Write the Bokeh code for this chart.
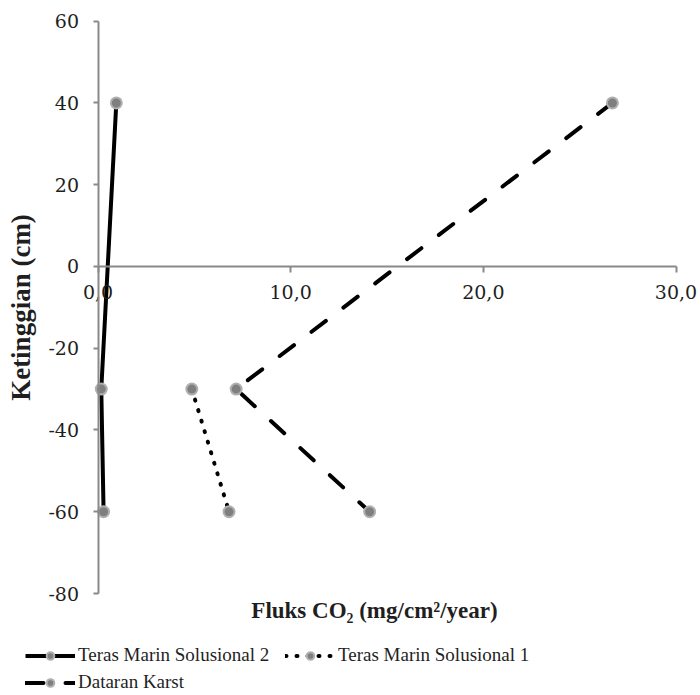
from bokeh.plotting import figure
from bokeh.models import FixedTicker, Legend, LegendItem, Label, Range1d
from bokeh.embed import file_html
from bokeh.resources import INLINE

# ---- data ----
x_ticks = [0, 10, 20, 30]
x_tick_labels = ["0,0", "10,0", "20,0", "30,0"]
y_ticks = [-80, -60, -40, -20, 0, 20, 40, 60]
y_tick_labels = ["-80", "-60", "-40", "-20", "0", "20", "40", "60"]

depth = [40, -30, -60]
teras2_flux = [0.95, 0.17, 0.29]
teras1_depth = [-30, -60]
teras1_flux = [4.87, 6.80]
karst_flux = [26.7, 7.17, 14.1]

series_names = ["Teras Marin Solusional 2", "Teras Marin Solusional 1", "Dataran Karst"]
x_title = "Fluks CO\u2082 (mg/cm\u00b2/year)"
y_title = "Ketinggian (cm)"

# ---- layout (canvas pixels) ----
W, H = 700, 695
AX_L, AX_R, AX_T, AX_B = 97.5, 675.5, 20.7, 593   # where the axis box sits on the canvas

x0, x1 = x_ticks[0], x_ticks[-1]
y0, y1 = y_ticks[0], y_ticks[-1]
sx = (AX_R - AX_L) / (x1 - x0)
sy = (AX_B - AX_T) / (y1 - y0)
x_range = Range1d(x0 - AX_L / sx, x1 + (W - AX_R) / sx)
y_range = Range1d(y0 - (H - AX_B) / sy, y1 + AX_T / sy)

AXIS_COL = "#898989"
TXT_COL = "#1f1f1f"
TICK_FONT = "DejaVu Serif"
TEXT_FONT = "Liberation Serif"

p = figure(width=W, height=H, x_range=x_range, y_range=y_range,
           output_backend="svg", toolbar_location=None, min_border=0)
p.grid.visible = False
p.outline_line_color = None
p.background_fill_color = "white"
p.border_fill_color = "white"

# x axis crossing at y = 0
xa = p.xaxis[0]
xa.fixed_location = 0
xa.bounds = (x0, x1)
xa.ticker = FixedTicker(ticks=x_ticks)
xa.major_label_overrides = {t: l for t, l in zip(x_ticks, x_tick_labels)}
xa.minor_tick_line_color = None
xa.major_tick_in = 0
xa.major_tick_out = 6
xa.axis_line_color = AXIS_COL
xa.axis_line_width = 2
xa.major_tick_line_color = AXIS_COL
xa.major_tick_line_width = 2
xa.major_label_standoff = 13
xa.major_label_text_font = TICK_FONT
xa.major_label_text_font_size = "19px"
xa.major_label_text_color = TXT_COL

# y axis crossing at x = 0
ya = p.yaxis[0]
ya.fixed_location = 0
ya.bounds = (y0, y1)
ya.ticker = FixedTicker(ticks=y_ticks)
ya.major_label_overrides = {t: l for t, l in zip(y_ticks, y_tick_labels)}
ya.minor_tick_line_color = None
ya.major_tick_in = 0
ya.major_tick_out = 5
ya.axis_line_color = AXIS_COL
ya.axis_line_width = 2
ya.major_tick_line_color = AXIS_COL
ya.major_tick_line_width = 2
ya.major_label_standoff = 14
ya.major_label_text_font = TICK_FONT
ya.major_label_text_font_size = "19px"
ya.major_label_text_color = TXT_COL
ya.axis_label = y_title
ya.axis_label_text_font = TEXT_FONT
ya.axis_label_text_font_style = "bold"
ya.axis_label_text_font_size = "27px"
ya.axis_label_text_color = TXT_COL
ya.axis_label_standoff = 10

MARK = dict(size=11, fill_color="#7f7f7f", line_color="#b0b0b0", line_width=2)

r2 = p.line(teras2_flux, depth, line_color="black", line_width=4)
s2 = p.scatter(teras2_flux, depth, **MARK)
r1 = p.line(teras1_flux, teras1_depth, line_color="black", line_width=4,
            line_dash="1 10", line_cap="round")
s1 = p.scatter(teras1_flux, teras1_depth, **MARK)
rk = p.line(karst_flux, depth, line_color="black", line_width=4,
            line_dash="18 22", line_cap="round")
sk = p.scatter(karst_flux, depth, **MARK)

p.add_layout(Label(x=374, y=H - 610, x_units="screen", y_units="screen", text=x_title,
                   text_align="center", text_baseline="middle", text_font=TEXT_FONT,
                   text_font_style="bold", text_font_size="23px", text_color=TXT_COL))

legend = Legend(items=[LegendItem(label=series_names[0], renderers=[r2, s2]),
                       LegendItem(label=series_names[1], renderers=[r1, s1]),
                       LegendItem(label=series_names[2], renderers=[rk, sk])],
                location=(25, 2), orientation="horizontal", ncols=2,
                padding=0, margin=0, spacing=5, border_line_color=None,
                background_fill_alpha=0, glyph_width=50, glyph_height=19,
                label_height=19, label_width=202, label_standoff=3,
                label_text_font=TEXT_FONT, label_text_font_size="19px",
                label_text_color=TXT_COL)
p.add_layout(legend)

open("out.html", "w").write(file_html(p, INLINE))
